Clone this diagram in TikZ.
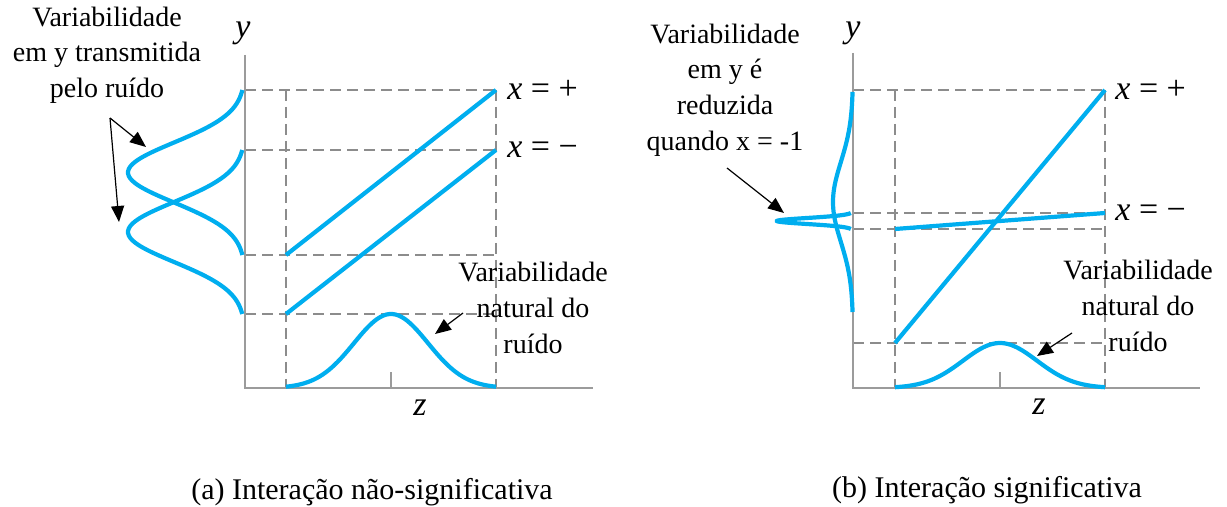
\documentclass[tikz,border=0pt]{standalone}
\usepackage{fontspec}
\setmainfont{Liberation Serif}
\usetikzlibrary{arrows.meta,positioning,calc}

\definecolor{curveblue}{RGB}{0,174,239}
\definecolor{guidegray}{RGB}{140,140,140}
\definecolor{axisgray}{RGB}{155,155,155}

\tikzset{
  guide/.style={draw=guidegray, line width=1pt, dash pattern=on 5.5pt off 3pt},
  axisline/.style={draw=axisgray, line width=1pt},
  response/.style={draw=curveblue, line width=2.1pt},
  noise/.style={draw=curveblue, line width=2.1pt, smooth, samples=70},
  callout/.style={-{Triangle[length=8pt,width=6.5pt]}, line width=0.6pt},
  notetext/.style={align=center, inner sep=0pt, font=\fontsize{14}{17.8}\selectfont},
  xlevel/.style={anchor=west, inner sep=0pt, font=\fontsize{17}{19}\selectfont},
  axisname/.style={inner sep=0pt, font=\fontsize{17}{19}\selectfont\itshape},
  captiontext/.style={inner sep=0pt, font=\fontsize{15}{18}\selectfont},
}

\begin{document}
\begin{tikzpicture}[x=0.5pt, y=-0.5pt]
  \useasboundingbox (0,0) rectangle (1227,507);

  % (a) interacao nao-significativa
  \foreach \yy in {90,150,255,314}
    \draw[guide] (245,\yy) -- (496,\yy);
  \draw[guide] (286,90) -- (286,388);
  \draw[guide] (496,90) -- (496,388);
  \draw[axisline] (245,55) |- (593,388);
  \draw[axisline] (391,388) -- (391,372);

  \draw[response] (286,255) -- (496,90);
  \draw[response] (286,314) -- (496,150);
  \draw[noise] plot[domain=-105:105] ({391+\x},{388-74*exp(-(\x*\x)/(2*37*37))});
  \draw[noise] plot[domain=-82.5:82.5] ({245-117*exp(-(\x*\x)/(2*30*30))},{172.5+\x});
  \draw[noise] plot[domain=-82:82] ({245-117*exp(-(\x*\x)/(2*30*30))},{232+\x});

  \node[axisname] (a-y) at (243,33) {y};
  \node[axisname] (a-z) at (420,408) {z};
  \node[xlevel] (a-plus) at (507,90) {\textit{x} = +};
  \node[xlevel] (a-minus) at (507,150) {\textit{x} = −};

  \node[notetext] (a-note) at (107,55) {Variabilidade\\em y transmitida\\pelo ruído};
  \coordinate (a-tail) at (110,118);
  \coordinate (a-tip1) at (146,147);
  \coordinate (a-tip2) at (119,222);
  \draw[callout] (a-tail) -- (a-tip1);
  \draw[callout] (a-tail) -- (a-tip2);

  \node[notetext] (a-natural) at (533,308) {Variabilidade\\natural do\\ruído};
  \coordinate (a-natural-tail) at (463,313);
  \coordinate (a-natural-tip) at (435,334);
  \draw[callout] (a-natural-tail) -- (a-natural-tip);

  \node[captiontext] (a-caption) at (372,492) {(a) Interação não-significativa};

  % (b) interacao significativa
  \foreach \yy in {90,213,229,343}
    \draw[guide] (853,\yy) -- (1105,\yy);
  \draw[guide] (895,90) -- (895,388);
  \draw[guide] (1105,90) -- (1105,388);
  \draw[axisline] (853,53) |- (1200,388);
  \draw[axisline] (1000,388) -- (1000,372);

  \draw[response] (895,343) -- (1105,90);
  \draw[response] (895,229) -- (1105,213);
  \draw[noise] plot[domain=-105:105] ({1000+\x},{388-45*exp(-(\x*\x)/(2*37*37))});
  \draw[noise] plot[domain=-110:110] ({853-20*exp(-(\x*\x)/(2*40*40))},{202+\x});
  \draw[noise] plot[domain=-8:8] ({853-76*exp(-(\x*\x)/(2*3*3))},{221+\x});

  \node[axisname] (b-y) at (853,33) {y};
  \node[axisname] (b-z) at (1039,407) {z};
  \node[xlevel] (b-plus) at (1115,90) {\textit{x} = +};
  \node[xlevel] (b-minus) at (1115,213) {\textit{x} = −};

  \node[notetext] (b-note) at (725,90) {Variabilidade\\em y é\\reduzida\\quando x = -1};
  \coordinate (b-tail) at (727,168);
  \coordinate (b-tip) at (784,213);
  \draw[callout] (b-tail) -- (b-tip);

  \node[notetext] (b-natural) at (1138,306) {Variabilidade\\natural do\\ruído};
  \coordinate (b-natural-tail) at (1072,333);
  \coordinate (b-natural-tip) at (1037,356);
  \draw[callout] (b-natural-tail) -- (b-natural-tip);

  \node[captiontext] (b-caption) at (987,490) {(b) Interação significativa};
\end{tikzpicture}
\end{document}
